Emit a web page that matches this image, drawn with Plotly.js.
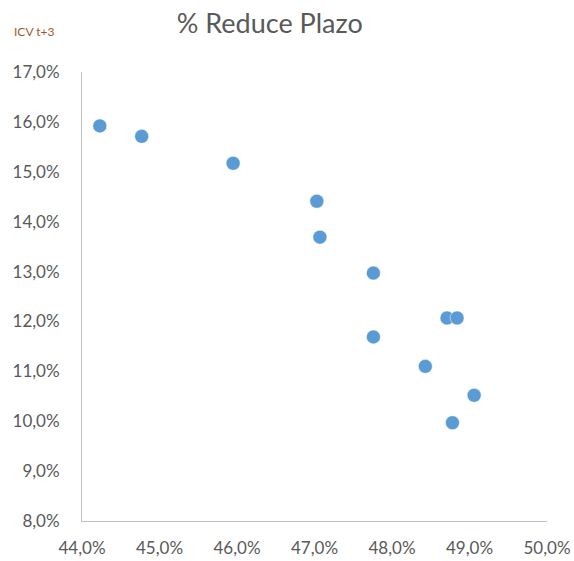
<!DOCTYPE html>
<html><head><meta charset="utf-8">
<script src="https://cdn.plot.ly/plotly-3.0.1.min.js"></script>
<style>html,body{margin:0;padding:0;background:#fff}#chart{width:574px;height:561px}</style>
</head><body><div id="chart"></div>
<script>
const reducePlazo = [44.23, 44.77, 45.95, 47.03, 47.07, 47.76, 47.76, 48.71, 48.84, 48.43, 49.06, 48.78];
const icvT3 = [15.92, 15.71, 15.17, 14.41, 13.69, 12.97, 11.69, 12.07, 12.07, 11.10, 10.52, 9.97];
const xTicks = [44, 45, 46, 47, 48, 49, 50];
const xTickLabels = ['44,0%', '45,0%', '46,0%', '47,0%', '48,0%', '49,0%', '50,0%'];
const yTicks = [8, 9, 10, 11, 12, 13, 14, 15, 16, 17];
const yTickLabels = ['8,0%', '9,0%', '10,0%', '11,0%', '12,0%', '13,0%', '14,0%', '15,0%', '16,0%', '17,0%'];

const font = "Lato, 'Open Sans', sans-serif";
Plotly.newPlot('chart', [{
  type: 'scatter', mode: 'markers',
  x: reducePlazo, y: icvT3,
  marker: {color: '#5B9BD5', size: 14, line: {color: '#ffffff', width: 0.5}},
  hoverinfo: 'x+y'
}], {
  width: 574, height: 561,
  margin: {l: 82, r: 27, t: 72, b: 40},
  paper_bgcolor: '#fff', plot_bgcolor: '#fff',
  showlegend: false,
  font: {family: font, color: '#595959', size: 17},
  title: {text: '% Reduce Plazo', x: 0.47, xanchor: 'center', y: 0.958, yanchor: 'middle',
          font: {family: font, size: 27, color: '#595959'}},
  xaxis: {range: [44, 50], tickmode: 'array', tickvals: xTicks, ticktext: xTickLabels,
          showgrid: false, zeroline: false, showline: true, linecolor: '#BFBFBF', linewidth: 1,
          ticks: '', ticklabelstandoff: 12, tickfont: {size: 17, color: '#595959'}, fixedrange: true},
  yaxis: {range: [8, 17], tickmode: 'array', tickvals: yTicks, ticktext: yTickLabels,
          showgrid: false, zeroline: false, showline: true, linecolor: '#BFBFBF', linewidth: 1,
          ticks: '', ticklabelstandoff: 18, tickfont: {size: 17, color: '#595959'}, fixedrange: true},
  annotations: [{text: 'ICV t+3', xref: 'paper', yref: 'paper', x: -0.15, y: 1.09,
                 xanchor: 'left', yanchor: 'middle', showarrow: false,
                 font: {family: font, size: 12, color: '#9E5A2A'}}]
}, {displayModeBar: false, staticPlot: true});
</script></body></html>
